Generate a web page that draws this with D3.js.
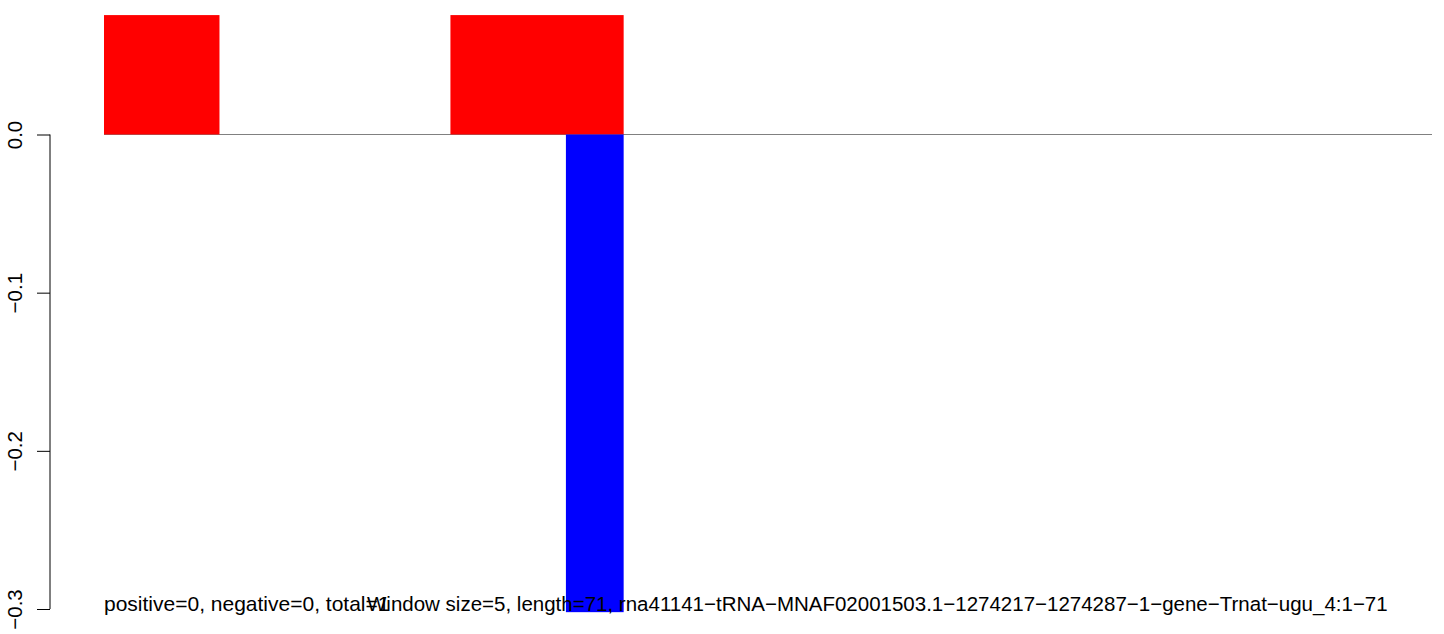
<!DOCTYPE html>
<html>
<head>
<meta charset="utf-8">
<script src="https://cdn.jsdelivr.net/npm/d3@7"></script>
<style>
  body { margin: 0; background: #fff; }
  svg { display: block; font-family: "Liberation Sans", Arial, sans-serif; }
</style>
</head>
<body>
<svg id="chart"></svg>
<script>
// window positions (in window units along the sequence) and scores
var posStarts = [0, 6];
var posEnds = [2, 9];
var posValues = [0.0755, 0.0755];
var negStarts = [8];
var negEnds = [9];
var negValues = [-0.302];
var nWindows = 23;
var yTicks = [0, -0.1, -0.2, -0.3];
var summaryText = "positive=0, negative=0, total=1";
var titleText = "Window size=5, length=71, rna41141\u2212tRNA\u2212MNAF02001503.1\u22121274217\u22121274287\u22121\u2212gene\u2212Trnat\u2212ugu_4:1\u221271";

var width = 1444, height = 634;
var fontSize = "20.5px";
var svg = d3.select("#chart").attr("width", width).attr("height", height);

var x = d3.scaleLinear().domain([0, nWindows]).range([104, 1432]);
var y = d3.scaleLinear().domain([-0.3, 0]).range([609, 134.5]);

// zero line
svg.append("line")
  .attr("x1", x(0)).attr("x2", x(nWindows))
  .attr("y1", y(0)).attr("y2", y(0))
  .attr("stroke", "#808080").attr("stroke-width", 1);

var pos = posStarts.map(function(s, i){ return {s: s, e: posEnds[i], v: posValues[i]}; });
var neg = negStarts.map(function(s, i){ return {s: s, e: negEnds[i], v: negValues[i]}; });

svg.append("g").selectAll("rect")
  .data(pos)
  .enter().append("rect")
  .attr("x", d => x(d.s))
  .attr("width", d => x(d.e) - x(d.s))
  .attr("y", d => y(d.v))
  .attr("height", d => y(0) - y(d.v))
  .attr("fill", "#ff0000");

svg.append("g").selectAll("rect")
  .data(neg)
  .enter().append("rect")
  .attr("x", d => x(d.s))
  .attr("width", d => x(d.e) - x(d.s))
  .attr("y", y(0))
  .attr("height", d => y(d.v) - y(0))
  .attr("fill", "#0000ff");

// y axis
var axis = svg.append("g")
  .attr("transform", "translate(50,0)")
  .call(d3.axisLeft(y).tickValues(yTicks).tickSize(13).tickSizeOuter(0)
    .tickFormat(d3.format(".1f")));
axis.select(".domain").attr("stroke", "#000").attr("stroke-width", 1)
  .attr("d", "M0," + y(0) + "V" + y(-0.3));
axis.selectAll(".tick line").attr("stroke", "#000");
axis.selectAll(".tick text").remove();
axis.selectAll(".tick").append("text")
  .attr("transform", "translate(-28,0) rotate(-90)")
  .attr("text-anchor", "middle")
  .attr("fill", "#000")
  .style("font-size", fontSize)
  .style("font-family", "Liberation Sans, Arial, sans-serif")
  .text(d => d3.format(".1f")(d));

// overlapping texts at bottom
svg.append("text")
  .attr("x", 104).attr("y", 611)
  .style("font-size", "21px")
  .attr("fill", "#000")
  .text(summaryText);
svg.append("text")
  .attr("x", 367).attr("y", 611)
  .style("font-size", fontSize)
  .attr("fill", "#000")
  .text(titleText);
</script>
</body>
</html>
